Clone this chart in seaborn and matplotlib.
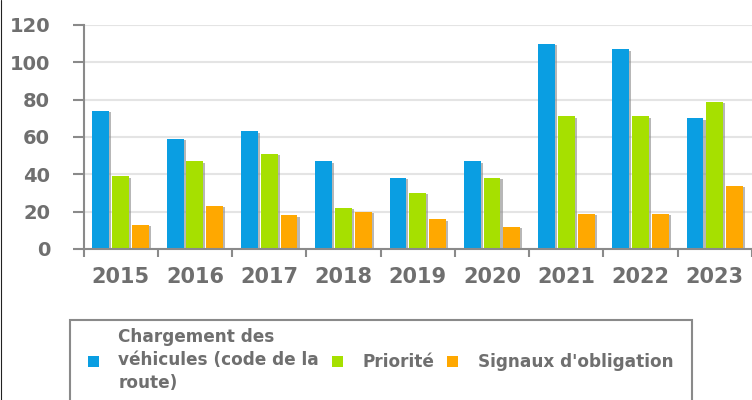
import matplotlib
matplotlib.use("Agg")
import matplotlib.pyplot as plt
import matplotlib.patheffects as pe
from matplotlib import font_manager
from matplotlib.patches import Rectangle
from matplotlib.lines import Line2D
import seaborn as sns
import pandas as pd
import numpy as np

# ---- data ----
years = ["2015", "2016", "2017", "2018", "2019", "2020", "2021", "2022", "2023"]
series_names = ["Chargement des\nvéhicules (code de la\nroute)", "Priorité", "Signaux d'obligation"]
chargement = [74, 59, 63, 47, 38, 47, 110, 107, 70]
priorite = [39, 47, 51, 22, 30, 38, 71, 71, 79]
signaux = [13, 23, 18, 20, 16, 12, 19, 19, 34]
y_ticks = [0, 20, 40, 60, 80, 100, 120]

colors = ["#0a9ee2", "#a6e000", "#ffa800"]

rows = []
for name, vals in zip(series_names, [chargement, priorite, signaux]):
    for y, v in zip(years, vals):
        rows.append({"Année": y, "Série": name, "Valeur": v})
df = pd.DataFrame(rows)

sns.set_style("white")
plt.rcParams["font.family"] = ["DejaVu Sans"]

W, H = 752, 400
fig = plt.figure(figsize=(W / 100, H / 100), dpi=100)
ax = fig.add_axes([83.5 / W, (H - 249) / H, (W - 83.5) / W, 224 / H])

sns.barplot(data=df, x="Année", y="Valeur", hue="Série", palette=colors,
            width=0.8, gap=0.15, ax=ax, legend=True, saturation=1)

for p in ax.patches:
    p.set_path_effects([pe.SimplePatchShadow(offset=(1.5, -1), shadow_rgbFace="#888888", alpha=0.6),
                        pe.Normal()])
    p.set_edgecolor("none")

ax.set_xlim(-0.5, 8.5)
ax.set_ylim(0, 120)
ax.set_yticks(y_ticks)
ax.set_xlabel("")
ax.set_ylabel("")

txt_color = "#6f6f6f"
axis_color = "#8a8a8a"

ax.grid(axis="y", color="#e4e4e4", linewidth=1.5)
ax.set_axisbelow(True)
for s in ["top", "right"]:
    ax.spines[s].set_visible(False)
for s in ["left", "bottom"]:
    ax.spines[s].set_color(axis_color)
    ax.spines[s].set_linewidth(1.5)

ax.tick_params(axis="y", left=True, length=8, width=1.5, color=axis_color, pad=16,
               labelsize=14, labelcolor=txt_color)
for t in ax.get_yticklabels():
    t.set_fontweight("bold")

ax.set_xticks(np.arange(-0.5, 9.0, 1.0), minor=True)
ax.tick_params(axis="x", which="major", bottom=True, length=0, pad=13, labelsize=15,
               labelcolor=txt_color)
ax.tick_params(axis="x", which="minor", bottom=True, length=6, width=1.5, color=axis_color,
               direction="out")
for t in ax.get_xticklabels():
    t.set_fontweight("bold")

# legend
handles, labels = ax.get_legend_handles_labels()
ax.get_legend().remove()
leg_font = font_manager.FontProperties(family="DejaVu Sans", weight="bold", size=12.2)
leg = fig.legend(handles, labels, ncol=3, loc="upper left",
                 bbox_to_anchor=(88 / W, 1 - 328 / H), bbox_transform=fig.transFigure,
                 frameon=False, prop=leg_font, handlelength=0.65, handleheight=0.65,
                 handletextpad=1.15, columnspacing=0.75, borderpad=0, borderaxespad=0,
                 labelspacing=0.2)
for t in leg.get_texts():
    t.set_color(txt_color)
    t.set_linespacing(1.37)
for h in leg.legend_handles:
    h.set_path_effects([])

fig.add_artist(Rectangle((70 / W, -0.1), (692 - 70) / W, (H - 320) / H + 0.1,
                         transform=fig.transFigure, fill=False, edgecolor="#8a8a8a",
                         linewidth=1.5))
fig.add_artist(Line2D([0.5 / W, 0.5 / W], [0, 1], transform=fig.transFigure,
                      color="#222222", linewidth=0.8))

fig.savefig("out.png", dpi=100)
